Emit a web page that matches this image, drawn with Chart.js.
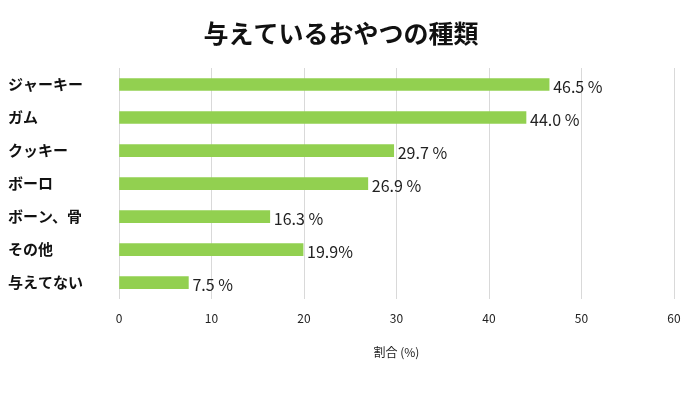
<!DOCTYPE html>
<html>
<head>
<meta charset="utf-8">
<script src="https://cdn.jsdelivr.net/npm/chart.js@4"></script>
<style>
html, body { margin: 0; padding: 0; background: #fff; }
#wrap { width: 696px; height: 410px; position: relative; }
</style>
</head>
<body>
<div id="wrap"><canvas id="chart"></canvas></div>
<script>
const categories = ['ジャーキー', 'ガム', 'クッキー', 'ボーロ', 'ボーン、骨', 'その他', '与えてない'];
const shares = [46.5, 44.0, 29.7, 26.9, 16.3, 19.9, 7.5];
const shareLabels = ['46.5 %', '44.0 %', '29.7 %', '26.9 %', '16.3 %', '19.9%', '7.5 %'];

const FONT = '"Noto Sans CJK JP", "Noto Sans", sans-serif';

// draws the value text right of each bar
const barLabels = {
    id: 'barLabels',
    afterDatasetsDraw(chart) {
        const ctx = chart.ctx;
        const meta = chart.getDatasetMeta(0);
        ctx.save();
        ctx.font = '16px ' + FONT;
        ctx.fillStyle = '#222';
        ctx.textBaseline = 'middle';
        meta.data.forEach((bar, i) => {
            ctx.fillText(shareLabels[i], bar.x + 4, bar.y + 2);
        });
        ctx.restore();
    }
};

new Chart(document.getElementById('chart'), {
    type: 'bar',
    data: {
        labels: categories,
        datasets: [{
            data: shares,
            backgroundColor: '#92d050',
            barThickness: 12
        }]
    },
    options: {
        indexAxis: 'y',
        responsive: true,
        maintainAspectRatio: false,
        animation: false,
        layout: { padding: { left: 8, right: 22, top: 0, bottom: 46 } },
        plugins: {
            legend: { display: false },
            tooltip: { enabled: false },
            title: {
                display: true,
                text: '与えているおやつの種類',
                color: '#111',
                font: { family: FONT, size: 25, weight: 'bold' },
                padding: { top: 18, bottom: 20 }
            }
        },
        scales: {
            x: {
                min: 0,
                max: 60,
                ticks: { stepSize: 10, color: '#222', font: { family: FONT, size: 12 }, padding: 12 },
                grid: { color: '#d9d9d9', drawTicks: false },
                border: { display: false },
                title: {
                    display: true,
                    text: '割合 (%)',
                    color: '#222',
                    font: { family: FONT, size: 12 },
                    padding: { top: 8 }
                }
            },
            y: {
                ticks: { color: '#111', font: { family: FONT, size: 15, weight: 'bold' }, padding: 14, crossAlign: 'far' },
                grid: { display: false },
                border: { display: false }
            }
        }
    },
    plugins: [barLabels]
});
</script>
</body>
</html>
